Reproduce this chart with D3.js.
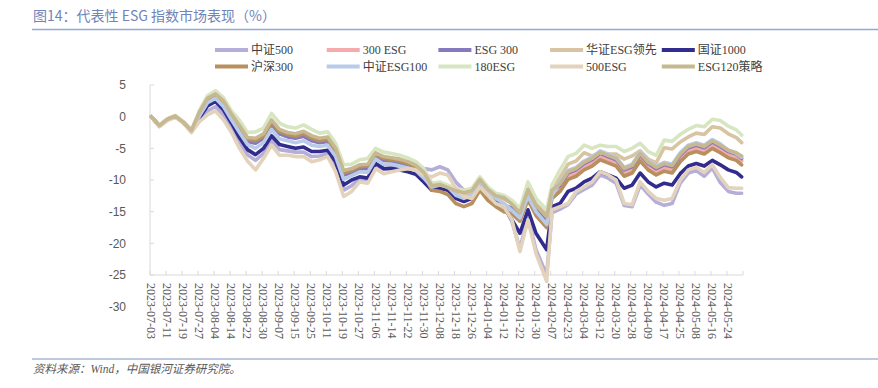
<!DOCTYPE html>
<html><head><meta charset="utf-8">
<script src="https://cdn.jsdelivr.net/npm/d3@7"></script>
<style>body{margin:0;background:#fff} svg{display:block}</style>
</head><body><svg id="c" width="878" height="388"></svg>
<script>
// trading-day index (0 = 2023-07-03) of each sampled value
const dayIndex = [0,3,6,9,12,15,18,21,24,27,30,33,36,39,42,45,48,51,54,57,60,63,66,69,72,75,78,81,84,87,90,93,96,99,102,105,108,111,114,117,120,123,126,129,132,135,138,141,144,148,150,153,156,159,162,165,168,171,174,177,180,183,186,189,192,195,198,201,204,207,210,213,216,219,221];
const dayCount = 222;
const tickDates = ["2023-07-03","2023-07-11","2023-07-19","2023-07-27","2023-08-04","2023-08-14","2023-08-22","2023-08-30","2023-09-07","2023-09-15","2023-09-25","2023-10-11","2023-10-19","2023-10-27","2023-11-06","2023-11-14","2023-11-22","2023-11-30","2023-12-08","2023-12-18","2023-12-26","2024-01-04","2024-01-12","2024-01-22","2024-01-30","2024-02-07","2024-02-23","2024-03-04","2024-03-12","2024-03-20","2024-03-28","2024-04-09","2024-04-17","2024-04-25","2024-05-08","2024-05-16","2024-05-24"];
const tickEvery = 6;
const yTicks = [5,0,-5,-10,-15,-20,-25,-30];

const zz500 = [0,-1.5,-0.5,0.0,-0.9,-2.4,-0.5,0.9,1.6,0.3, -1.8,-4.0,-6.0,-6.9,-5.8,-3.7,-5.2,-5.4,-5.6,-5.6, -6.3,-6.2,-5.8,-7.9,-11.6,-10.9,-9.8,-9.9,-7.6,-8.3, -8.0,-7.6,-7.3,-7.5,-8.2,-8.4,-7.9,-8.4,-10.3,-11.6, -12.3,-10.6,-12.0,-13.4,-14.0,-16.6,-20.8,-15.8,-21.0,-25.0, -15.2,-14.6,-13.9,-12.2,-11.5,-10.8,-9.2,-9.7,-10.5,-14.0, -14.2,-10.8,-12.2,-13.5,-14.0,-13.7,-10.5,-8.9,-8.5,-9.4, -8.1,-10.4,-11.8,-12.1,-12.1];
const esg300a = [0,-1.4,-0.4,0.1,-0.9,-2.2,0.5,2.6,3.3,2.2, 0.0,-1.8,-3.7,-4.0,-3.2,-1.1,-2.5,-3.0,-3.2,-2.9, -3.6,-3.9,-3.7,-5.5,-9.0,-8.6,-8.0,-8.0,-6.1,-6.8, -6.9,-7.1,-7.5,-8.0,-9.1,-11.3,-11.0,-11.3,-12.6,-13.1, -12.6,-10.5,-12.1,-13.1,-13.9,-14.6,-15.8,-12.3,-14.8,-16.8, -12.2,-11.3,-9.4,-8.9,-7.9,-7.3,-6.3,-6.8,-7.3,-8.9, -8.4,-6.5,-7.9,-8.7,-8.1,-8.4,-6.6,-5.4,-5.0,-5.4, -4.5,-5.2,-6.0,-6.4,-7.0];
const esg300b = [0,-1.4,-0.4,0.1,-0.9,-2.2,0.4,2.5,3.3,2.1, -0.1,-2.0,-3.9,-4.2,-3.4,-1.3,-2.7,-3.2,-3.4,-3.1, -3.8,-4.1,-3.9,-5.7,-9.2,-8.8,-8.2,-8.2,-6.2,-6.9, -7.0,-7.3,-7.6,-8.1,-9.3,-11.4,-11.1,-11.4,-12.7,-13.2, -12.7,-10.6,-12.2,-13.2,-14.0,-14.4,-15.6,-12.1,-14.6,-16.6, -12.0,-10.8,-8.9,-8.4,-7.4,-6.8,-5.8,-6.3,-6.8,-8.4, -7.9,-6.0,-7.4,-8.2,-7.6,-7.9,-6.1,-4.9,-4.5,-4.9, -4.0,-4.7,-5.5,-5.9,-6.6];
const hzLead = [0,-1.4,-0.4,0.1,-0.8,-2.2,0.6,2.8,3.5,2.4, 0.3,-1.5,-3.4,-3.6,-2.9,-0.7,-2.2,-2.7,-2.9,-2.5, -3.2,-3.6,-3.4,-5.2,-8.7,-8.4,-7.7,-7.7,-5.8,-6.5, -6.6,-6.9,-7.2,-7.8,-8.9,-11.1,-10.9,-11.4,-11.9,-12.2, -11.9,-10.1,-11.7,-12.7,-13.0,-13.6,-15.0,-11.2,-13.8,-15.5, -11.3,-9.6,-7.5,-7.0,-5.7,-6.2,-5.7,-5.9,-5.9,-6.7, -6.2,-5.4,-6.7,-7.3,-4.9,-5.1,-4.0,-3.2,-2.6,-2.8, -1.6,-1.8,-2.7,-3.3,-4.1];
const gz1000 = [0,-1.5,-0.5,0.0,-0.9,-2.3,-0.2,1.7,2.4,1.1, -1.0,-3.3,-5.2,-6.0,-5.0,-3.0,-4.4,-4.7,-5.0,-4.8, -5.5,-5.5,-5.3,-7.1,-10.8,-10.0,-9.5,-9.7,-7.4,-8.2, -8.2,-8.4,-8.7,-9.1,-10.3,-11.6,-11.3,-11.6,-12.9,-13.4, -12.9,-10.8,-12.4,-13.4,-14.2,-16.3,-18.4,-14.7,-18.4,-21.0, -14.2,-13.7,-11.8,-11.3,-10.3,-9.7,-8.7,-9.2,-9.7,-11.3, -10.8,-8.9,-10.3,-11.1,-10.5,-10.8,-9.0,-7.8,-7.4,-7.8, -6.9,-7.6,-8.4,-8.8,-9.5];
const hs300 = [0,-1.5,-0.4,0.1,-0.9,-2.2,0.5,2.7,3.4,2.2, 0.1,-1.7,-3.6,-3.8,-3.1,-0.9,-2.4,-2.8,-3.1,-2.7, -3.4,-3.8,-3.6,-5.4,-8.9,-8.5,-7.9,-7.8,-6.0,-6.6, -6.8,-7.0,-7.4,-7.9,-9.0,-11.6,-11.8,-12.3,-13.7,-14.2, -13.7,-11.6,-13.2,-14.2,-15.0,-15.3,-16.5,-13.1,-15.6,-17.5, -12.9,-11.8,-9.9,-9.4,-8.4,-7.8,-6.8,-7.3,-7.8,-9.4, -8.9,-7.0,-8.4,-9.2,-8.6,-8.9,-7.1,-5.9,-5.5,-5.9, -5.0,-5.7,-6.5,-6.9,-7.6];
const zzEsg100 = [0,-1.5,-0.4,0.0,-0.9,-2.3,0.1,2.2,2.9,1.6, -0.5,-2.5,-4.4,-5.0,-4.1,-2.0,-3.5,-3.8,-4.1,-3.8, -4.5,-4.7,-4.5,-6.3,-9.9,-9.3,-8.7,-8.8,-6.7,-7.5, -7.5,-7.8,-8.1,-8.5,-9.7,-11.1,-10.8,-11.1,-12.4,-12.9, -12.4,-10.3,-11.9,-12.9,-13.7,-14.8,-16.0,-12.5,-15.0,-17.0, -12.4,-10.4,-8.5,-8.0,-7.0,-6.4,-5.4,-5.9,-6.4,-8.0, -7.5,-5.6,-7.0,-7.8,-7.2,-7.5,-5.7,-4.5,-4.1,-4.5, -3.6,-4.3,-5.3,-5.8,-6.4];
const esg180 = [0,-1.4,-0.3,0.2,-0.8,-2.1,1.0,3.3,4.1,3.0, 0.9,-0.6,-2.5,-2.4,-1.8,0.5,-1.0,-1.6,-1.8,-1.3, -2.0,-2.6,-2.4,-4.2,-7.6,-7.5,-6.8,-6.6,-5.0,-5.6, -5.8,-6.1,-6.5,-7.1,-8.2,-10.5,-10.3,-10.8,-11.3,-11.6, -11.3,-9.5,-11.1,-12.1,-12.4,-13.2,-14.5,-10.3,-12.9,-14.7, -10.8,-8.4,-6.3,-5.8,-4.5,-5.0,-4.5,-4.7,-4.7,-5.5, -5.0,-4.2,-5.5,-6.1,-3.7,-3.9,-2.8,-2.0,-1.4,-1.6, -0.4,-0.6,-1.5,-2.1,-2.9];
const esg500 = [0,-1.6,-0.6,-0.1,-1.0,-2.5,-0.8,0.3,0.9,-0.5, -2.5,-5.0,-7.0,-8.4,-6.6,-4.5,-6.1,-6.1,-6.3,-6.3, -7.1,-6.8,-6.3,-8.7,-12.6,-11.8,-10.3,-10.5,-8.2,-9.0, -8.7,-8.4,-8.2,-8.4,-9.2,-9.5,-8.9,-9.2,-11.3,-12.6, -12.9,-11.1,-12.4,-13.7,-14.2,-16.3,-21.3,-16.3,-21.6,-26.0, -14.7,-14.2,-13.7,-11.8,-11.1,-10.3,-8.7,-9.2,-10.0,-13.7, -13.9,-10.3,-11.8,-12.9,-13.2,-12.9,-10.0,-8.4,-8.0,-8.8, -7.6,-9.6,-11.2,-11.3,-11.3];
const esg120 = [0,-1.4,-0.4,0.1,-0.9,-2.2,0.7,2.9,3.6,2.5, 0.4,-1.4,-3.3,-3.4,-2.7,-0.5,-2.0,-2.5,-2.7,-2.3, -3.0,-3.4,-3.2,-5.0,-8.5,-8.2,-7.6,-7.5,-5.7,-6.3, -6.5,-6.7,-7.1,-7.7,-8.8,-10.9,-10.7,-11.2,-11.7,-12.0, -11.7,-9.9,-11.5,-12.5,-12.8,-13.8,-15.2,-11.5,-14.0,-15.8, -11.6,-10.6,-8.7,-8.2,-7.2,-6.6,-5.6,-6.1,-6.6,-8.2, -7.7,-5.8,-7.2,-8.0,-7.4,-7.7,-5.9,-4.7,-4.3,-4.7, -3.8,-4.5,-5.3,-5.7,-6.2];

const seriesNames = ["中证500","300 ESG","ESG 300","华证ESG领先","国证1000","沪深300","中证ESG100","180ESG","500ESG","ESG120策略"];
const seriesValues = [zz500, esg300a, esg300b, hzLead, gz1000, hs300, zzEsg100, esg180, esg500, esg120];
const colors = ["#b5aed9","#f5abab","#8679bd","#d8c3a3","#322c8f","#b88f5f","#b8cbe8","#d7e5c1","#e3d3bd","#c6b890"];

const svg = d3.select('#c');
const serif = "'Liberation Serif','Noto Sans CJK SC',serif";
const sans = "'Liberation Sans',Arial,sans-serif";

// title
svg.append('text').attr('x',33).attr('y',21).attr('fill','#6f84b8')
  .style('font-family',"'Noto Sans CJK SC',sans-serif").style('font-size','14px')
  .text('图14：代表性 ESG 指数市场表现（%）');
svg.append('line').attr('x1',32).attr('x2',878).attr('y1',29.5).attr('y2',29.5)
  .attr('stroke','#8fa9d6').attr('stroke-width',1.5);

// footer
svg.append('line').attr('x1',32).attr('x2',878).attr('y1',359).attr('y2',359)
  .attr('stroke','#a9b7d3').attr('stroke-width',1.5);
svg.append('text').attr('x',33).attr('y',373).attr('fill','#595959')
  .style('font-family',serif).style('font-size','11.5px').style('font-style','italic')
  .text('资料来源：Wind，中国银河证券研究院。');

const x = d3.scaleLinear().domain([-0.5, dayCount-0.5]).range([150, 743]);
const y = d3.scaleLinear().domain([-30, 5]).range([306.7, 85]);

const axisColor = '#d9d9d9';
// y axis
svg.append('line').attr('x1',x(-0.5)).attr('x2',x(-0.5)).attr('y1',y(5)).attr('y2',y(-25))
  .attr('stroke',axisColor).attr('stroke-width',1);
yTicks.forEach(t=>{
  if (t>=-25) svg.append('line').attr('x1',x(-0.5)).attr('x2',x(-0.5)+4).attr('y1',y(t)).attr('y2',y(t))
    .attr('stroke',axisColor);
  svg.append('text').attr('x',126).attr('y',y(t)).attr('dy','0.35em').attr('text-anchor','end')
    .attr('fill','#595959').style('font-family',sans).style('font-size','12px').text(t);
});
// x axis
const axY = y(-25);
svg.append('line').attr('x1',x(-0.5)).attr('x2',x(dayCount-0.5)).attr('y1',axY).attr('y2',axY)
  .attr('stroke',axisColor).attr('stroke-width',1);
for (let j=0;j<=tickDates.length;j++){
  const xi = x(j*tickEvery-0.5);
  svg.append('line').attr('x1',xi).attr('x2',xi).attr('y1',axY).attr('y2',axY-4).attr('stroke',axisColor);
}
tickDates.forEach((d,j)=>{
  const xi = x(j*tickEvery);
  svg.append('text').attr('transform',`translate(${xi},${axY+8}) rotate(90)`)
    .attr('dy','0.35em').attr('fill','#595959')
    .style('font-family',serif).style('font-size','12px').text(d);
});

// lines
const line = d3.line().x((d,i)=>x(dayIndex[i])).y(d=>y(d));
seriesValues.forEach((vals,s)=>{
  svg.append('path').datum(vals).attr('d',line).attr('fill','none')
    .attr('stroke',colors[s]).attr('stroke-width',3.6)
    .attr('stroke-linejoin','round').attr('stroke-linecap','round');
});

// legend
seriesNames.forEach((n,s)=>{
  const col = s%5, row = Math.floor(s/5);
  const lx = 215 + col*111.7, ly = 50 + row*16.5;
  svg.append('line').attr('x1',lx).attr('x2',lx+33).attr('y1',ly).attr('y2',ly)
    .attr('stroke',colors[s]).attr('stroke-width',4);
  svg.append('text').attr('x',lx+36).attr('y',ly).attr('dy','0.35em').attr('fill','#404040')
    .style('font-family',serif).style('font-size','12px').text(n);
});
</script></body></html>
